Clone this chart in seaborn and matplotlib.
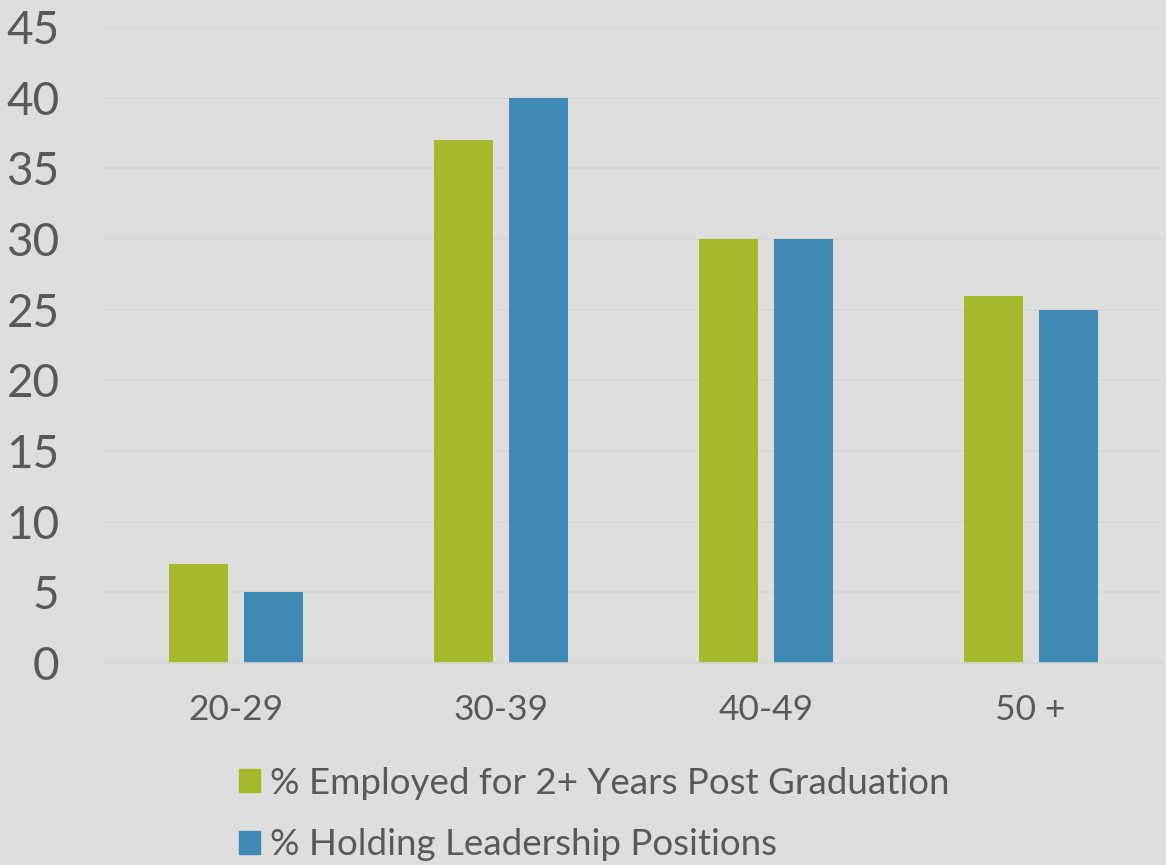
"""Grouped bar chart: employment vs leadership by age group."""

import matplotlib

matplotlib.use("Agg")
import matplotlib.pyplot as plt
import pandas as pd
import seaborn as sns

age_groups = ["20-29", "30-39", "40-49", "50 +"]
employed_pct = [7, 37, 30, 26]
leadership_pct = [5, 40, 30, 25]
series_names = ["% Employed for 2+ Years Post Graduation", "% Holding Leadership Positions"]
y_ticks = list(range(0, 50, 5))

BG = "#DEDEDE"
TEXT = "#595959"
GRID = "#D6D6D6"
palette = ["#A7B92A", "#3F8AB4"]

df = pd.DataFrame({
    "age": age_groups * 2,
    "value": employed_pct + leadership_pct,
    "series": [series_names[0]] * len(age_groups) + [series_names[1]] * len(age_groups),
})

sns.set_theme(style="white")
plt.rcParams["font.family"] = ["Lato", "DejaVu Sans"]

fig = plt.figure(figsize=(11.66, 8.65), dpi=100, facecolor=BG)
ax = fig.add_axes([104 / 1166, 1 - 663 / 865, (1163 - 104) / 1166, (663 - 27) / 865])
ax.set_facecolor(BG)

sns.barplot(data=df, x="age", y="value", hue="series", palette=palette,
            width=0.566, gap=0.213, saturation=1, linewidth=0, edgecolor="none",
            ax=ax, legend=False)

ax.set_ylim(0, 45)
ax.set_xlim(-0.5, 3.5)
ax.set_yticks(y_ticks)
ax.yaxis.grid(True, color=GRID, linewidth=1.2)
ax.set_axisbelow(True)
for side in ["left", "right", "top"]:
    ax.spines[side].set_visible(False)
ax.spines["bottom"].set_color(GRID)
ax.spines["bottom"].set_linewidth(1.2)
ax.tick_params(axis="y", length=0, pad=32, labelsize=33, labelcolor=TEXT)
ax.tick_params(axis="x", length=0, pad=22, labelsize=25.5, labelcolor=TEXT)
ax.set_xlabel("")
ax.set_ylabel("")

handles = [plt.Rectangle((0, 0), 1, 1, color=c) for c in palette]
fig.legend(handles, series_names, loc="upper left", bbox_to_anchor=(224 / 1166, 1 - 752 / 865),
           frameon=False, fontsize=26.5, labelcolor=TEXT, handlelength=0.58, handleheight=0.58,
           handletextpad=0.27, labelspacing=0.78, borderaxespad=0)

fig.savefig("out.png", dpi=100, facecolor=BG)
